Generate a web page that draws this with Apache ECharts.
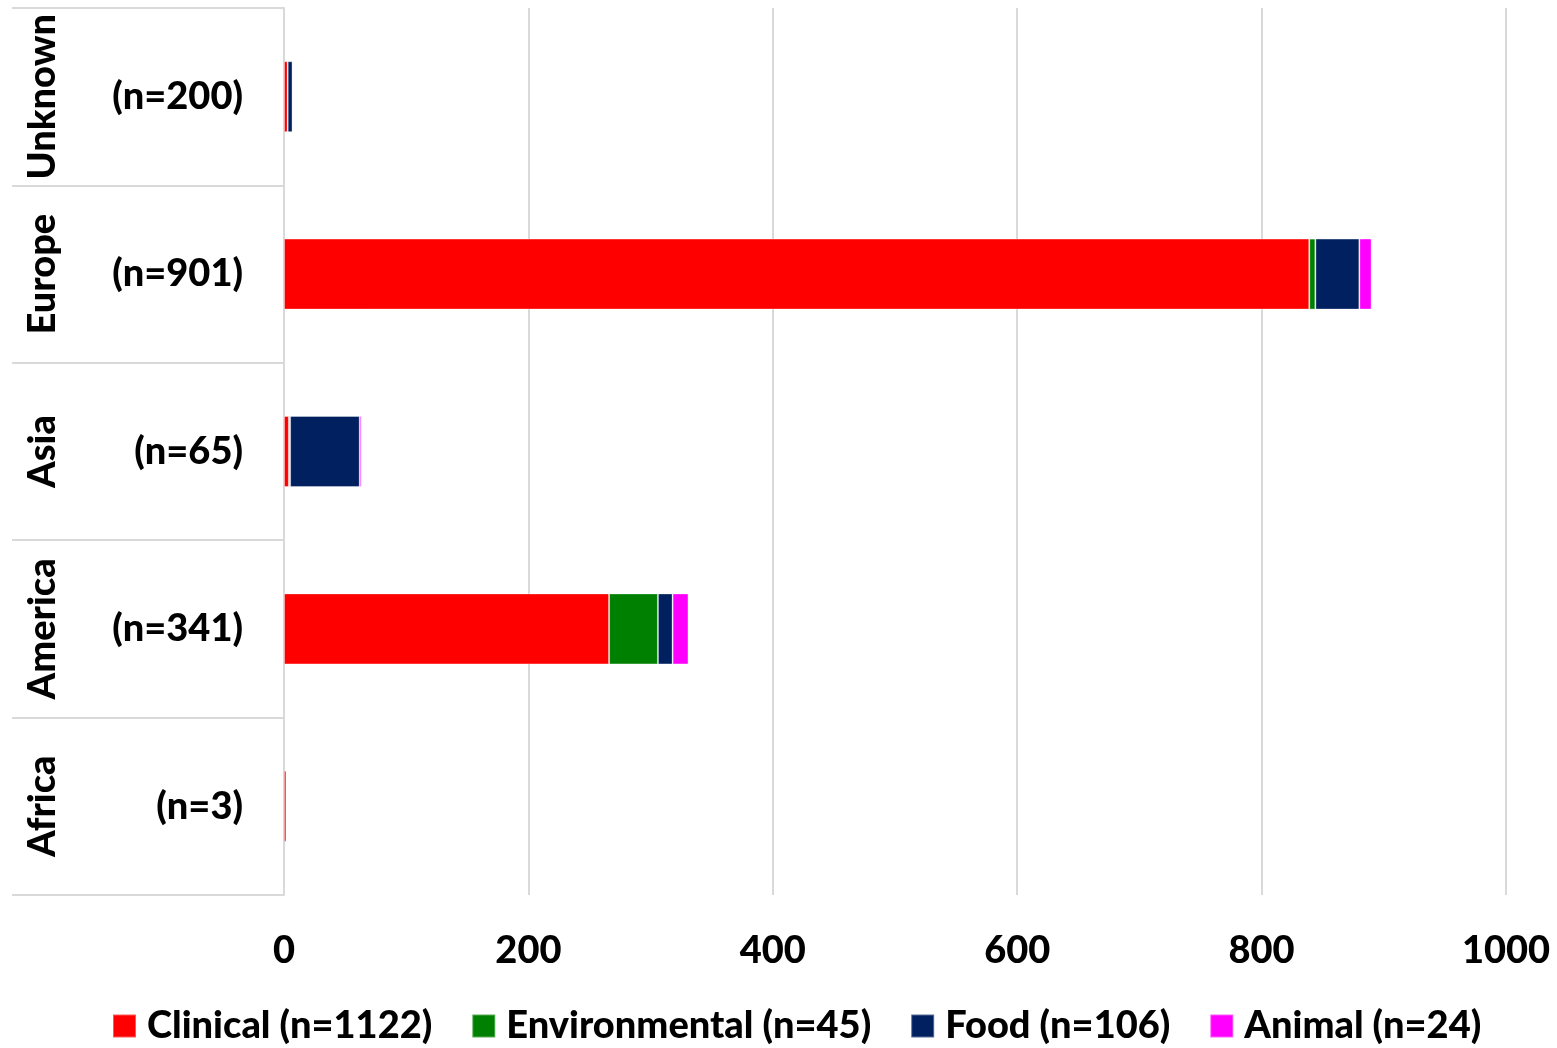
<!DOCTYPE html>
<html>
<head>
<meta charset="utf-8">
<script src="https://cdn.jsdelivr.net/npm/echarts@6/dist/echarts.min.js"></script>
<style>
  html, body { margin: 0; padding: 0; background: #fff; }
  #main { width: 1557px; height: 1048px; }
</style>
</head>
<body>
<div id="main"></div>
<script>
// regions, bottom to top as drawn
var regions = ['Africa', 'America', 'Asia', 'Europe', 'Unknown'];
var regionCounts = ['(n=3)', '(n=341)', '(n=65)', '(n=901)', '(n=200)'];

var seriesNames = ['Clinical (n=1122)', 'Environmental (n=45)', 'Food (n=106)', 'Animal (n=24)'];
var clinical = [2, 266, 4, 839, 3];
var environmental = [0, 40, 1, 5, 0];
var food = [0, 12, 57, 36, 4];
var animal = [0, 13, 1.5, 10, 0];

var xTicks = [0, 200, 400, 600, 800, 1000];

var colors = ['#ff0000', '#008000', '#002060', '#ff00ff'];
var font = 'Lato';
var fs = 38;

var chart = echarts.init(document.getElementById('main'));

var values = [clinical, environmental, food, animal];
var series = seriesNames.map(function (name, i) {
  return {
    name: name,
    type: 'bar',
    stack: 'total',
    yAxisIndex: 0,
    barWidth: '40%',
    data: values[i],
    itemStyle: { color: colors[i], borderColor: 'rgba(255,255,255,0.35)', borderWidth: 1 }
  };
});

var option = {
  animation: false,
  textStyle: { fontFamily: font },
  color: colors,
  grid: { left: 284, right: 51, top: 8, bottom: 153, containLabel: false },
  legend: {
    bottom: -2,
    left: 107,
    itemWidth: 23,
    itemHeight: 23,
    itemGap: 39,
    icon: 'rect',
    data: seriesNames,
    textStyle: { fontSize: fs, fontWeight: 900, color: '#000', fontFamily: font, padding: [0, 0, 0, 6] }
  },
  xAxis: {
    type: 'value',
    min: xTicks[0],
    max: xTicks[xTicks.length - 1],
    interval: 200,
    axisLine: { show: false },
    axisTick: { show: false },
    axisLabel: {
      margin: 37, fontSize: fs, fontWeight: 900, color: '#000', fontFamily: font,
      formatter: function (v) { return String(v); }
    },
    splitLine: { show: true, lineStyle: { color: '#d9d9d9', width: 2 } }
  },
  yAxis: [
    {
      type: 'category',
      data: regionCounts,
      position: 'left',
      axisLine: { show: true, lineStyle: { color: '#d9d9d9', width: 2 } },
      axisTick: { show: true, length: 272, lineStyle: { color: '#d9d9d9', width: 2 } },
      axisLabel: { interval: 0, margin: 41, fontSize: fs, fontWeight: 900, color: '#000', fontFamily: font }
    },
    {
      type: 'category',
      data: regions,
      position: 'left',
      axisLine: { show: false },
      axisTick: { show: false },
      axisLabel: { interval: 0, hideOverlap: false, rotate: 90, margin: 222, fontSize: fs, fontWeight: 900, color: '#000', fontFamily: font }
    }
  ],
  series: series
};

chart.setOption(option);
</script>
</body>
</html>
